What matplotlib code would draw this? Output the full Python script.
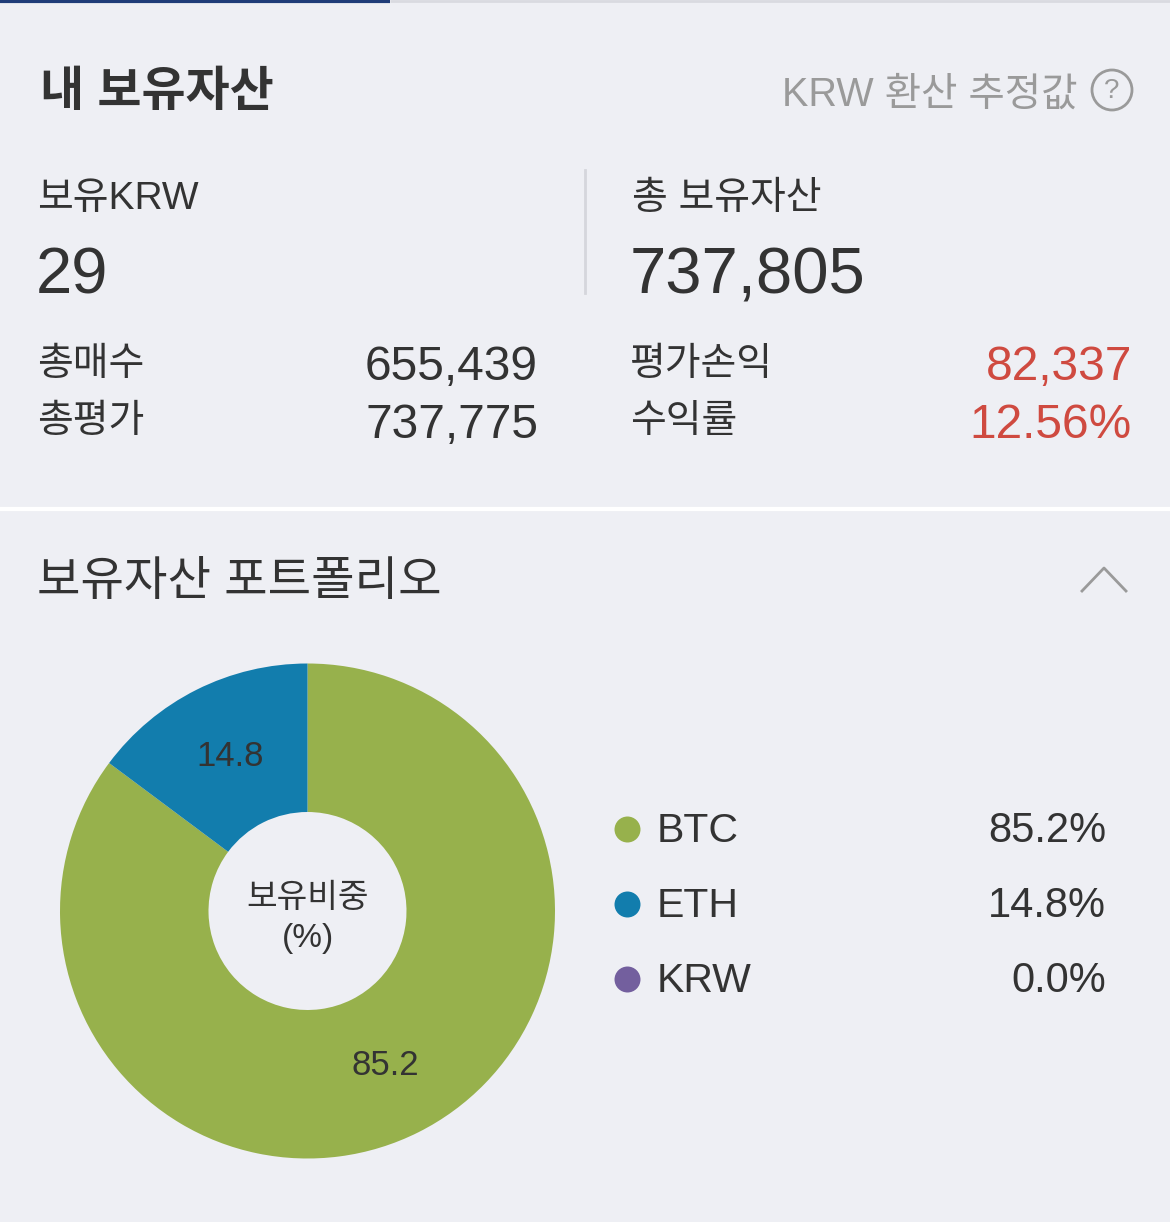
import matplotlib
matplotlib.use("Agg")
from matplotlib import pyplot as plt
from matplotlib.patches import Circle

# data
coins = ["BTC", "ETH", "KRW"]
weights = [85.2, 14.8, 0.0]
coin_colors = ["#97b14c", "#127dad", "#735f9e"]

krw_held = "29"
total_assets = "737,805"
left_rows = ["총매수", "총평가"]
left_vals = ["655,439", "737,775"]
right_rows = ["평가손익", "수익률"]
right_vals = ["82,337", "12.56%"]

W, H = 1170, 1222
bg = "#eeeff4"
dark = "#333333"
grey = "#9a9a9a"
red = "#cf4a40"
fam = ["Liberation Sans", "Noto Sans CJK KR", "DejaVu Sans"]

fig = plt.figure(figsize=(W / 100, H / 100), dpi=100, facecolor=bg)

# overlay axes in pixel coordinates
ov = fig.add_axes([0, 0, 1, 1])
ov.set_xlim(0, W)
ov.set_ylim(H, 0)
ov.axis("off")

def txt(x, y, s, size, color=dark, ha="left", weight="normal"):
    ov.text(x, y, s, fontsize=size, color=color, ha=ha, va="center",
            family=fam, fontweight=weight)

# top tab line
ov.plot([0, 390], [1, 1], color="#1f3c78", lw=3, solid_capstyle="butt")
ov.plot([390, W], [1, 1], color="#d9dae0", lw=2, solid_capstyle="butt")

# header
txt(40, 93, "내 보유자산", 34.5, weight="bold")
txt(1078, 95, "KRW 환산 추정값", 28.5, color=grey, ha="right")
ov.add_patch(Circle((1112, 90), 20, fill=False, ec=grey, lw=2))
txt(1112, 91, "?", 20, color=grey, ha="center")

# summary
txt(37, 199, "보유KRW", 28)
txt(632, 199, "총 보유자산", 28)
txt(36, 276, krw_held, 47)
txt(630, 276, total_assets, 47)
ov.plot([585, 585], [170, 293], color="#d5d6dc", lw=2)

for i in range(2):
    y = 362 + i * 57
    txt(37, y + 3, left_rows[i], 28)
    txt(538, y + 6, left_vals[i], 34.5, ha="right")
    txt(630, y + 3, right_rows[i], 28)
    txt(1132, y + 6, right_vals[i], 34.5, color=red, ha="right")

# separator
ov.plot([0, W], [509, 509], color="white", lw=3)

# portfolio header
txt(37, 583, "보유자산 포트폴리오", 34)
ov.plot([1082, 1104, 1126], [591, 568, 591], color=grey, lw=2)

# legend
for i, c in enumerate(coins):
    y = 829 + i * 75
    ov.scatter([627], [y], s=350, color=coin_colors[i], lw=0)
    txt(657, y + 2, c, 29.5)
    txt(1106, y + 2, f"{weights[i]:.1f}%", 30, ha="right")

# donut
cx, cy, r = 307.5, 911, 247.5
pie_ax = fig.add_axes([(cx - r) / W, (H - cy - r) / H, 2 * r / W, 2 * r / H])
pie_ax.pie(weights, colors=coin_colors, startangle=90, counterclock=False,
           radius=1, wedgeprops=dict(width=0.6, linewidth=0),
           autopct=lambda p: f"{p:.1f}" if p > 0.05 else "", pctdistance=0.70,
           textprops=dict(fontsize=25, color=dark, family=fam))
pie_ax.set_xlim(-1, 1)
pie_ax.set_ylim(-1, 1)
pie_ax.set_aspect("equal")
pie_ax.axis("off")
pie_ax.text(0, 0.05, "보유비중", ha="center", va="center", fontsize=24,
            color=dark, family=fam)
pie_ax.text(0, -0.11, "(%)", ha="center", va="center", fontsize=24,
            color=dark, family=fam)

fig.savefig("out.png", dpi=100, facecolor=bg)
